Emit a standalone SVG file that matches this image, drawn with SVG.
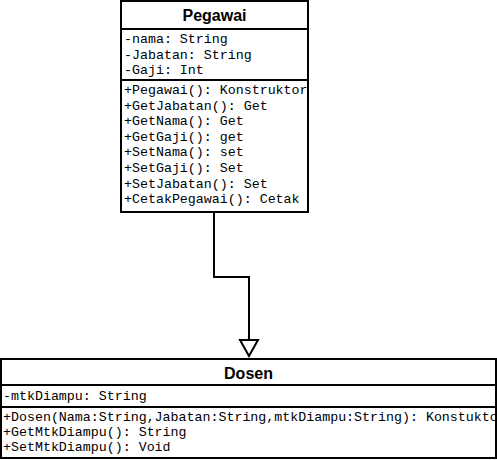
<svg xmlns="http://www.w3.org/2000/svg" width="497" height="460" viewBox="0 0 497 460">
<style>
.box{fill:#fff;stroke:#000;stroke-width:2}
.ln{stroke:#000;stroke-width:2;fill:none}
.t{font-family:"Liberation Sans",Arial,sans-serif;font-weight:bold;font-size:16px;text-anchor:middle}
.m{font-family:"Liberation Mono","Courier New",monospace;font-size:13.3px}
</style>
<rect width="497" height="460" fill="#fff"/>
<g id="connectors">
<polyline class="ln" points="214,212 214,277 249,277 249,340"/>
<polygon points="240,340 258,340 249,356" fill="#fff" stroke="#000" stroke-width="2"/>
</g>
<g id="pegawai">
<rect class="box" x="121" y="1" width="187" height="211"/>
<line class="ln" x1="121" y1="29" x2="308" y2="29"/>
<line class="ln" x1="121" y1="80" x2="308" y2="80"/>
<text class="t" x="214.5" y="21">Pegawai</text>
<text class="m" x="124" y="43">-nama: String</text>
<text class="m" x="124" y="58.5">-Jabatan: String</text>
<text class="m" x="124" y="74">-Gaji: Int</text>
<text class="m" x="124" y="94">+Pegawai(): Konstruktor</text>
<text class="m" x="124" y="109.6">+GetJabatan(): Get</text>
<text class="m" x="124" y="125.2">+GetNama(): Get</text>
<text class="m" x="124" y="140.8">+GetGaji(): get</text>
<text class="m" x="124" y="156.4">+SetNama(): set</text>
<text class="m" x="124" y="172">+SetGaji(): Set</text>
<text class="m" x="124" y="187.6">+SetJabatan(): Set</text>
<text class="m" x="124" y="203.2">+CetakPegawai(): Cetak</text>
</g>
<g id="dosen">
<rect class="box" x="1" y="359" width="495" height="99"/>
<line class="ln" x1="1" y1="385" x2="496" y2="385"/>
<line class="ln" x1="1" y1="407" x2="496" y2="407"/>
<text class="t" x="248.5" y="379">Dosen</text>
<text class="m" x="3" y="400">-mtkDiampu: String</text>
<text class="m" x="3" y="421">+Dosen(Nama:String,Jabatan:String,mtkDiampu:String): Konstuktor</text>
<text class="m" x="3" y="436">+GetMtkDiampu(): String</text>
<text class="m" x="3" y="451">+SetMtkDiampu(): Void</text>
</g>
</svg>
